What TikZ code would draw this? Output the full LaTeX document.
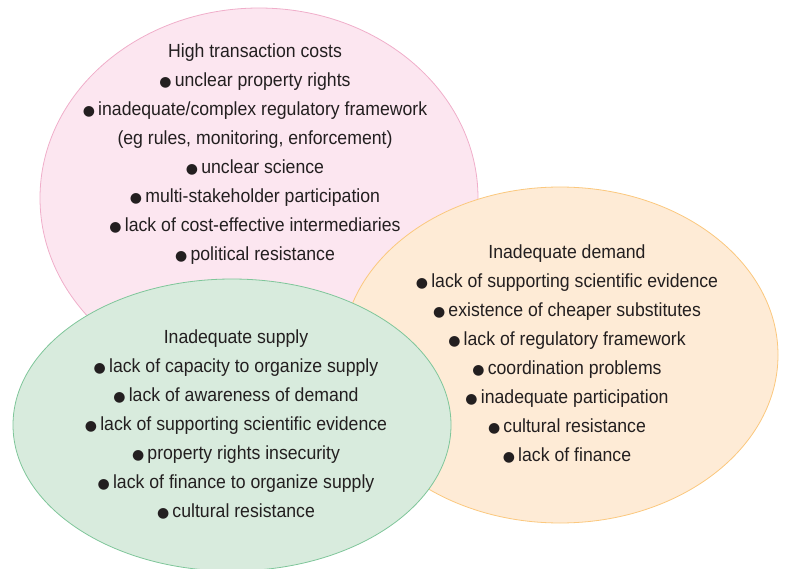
\documentclass[tikz,border=0pt]{standalone}
\usepackage{fontspec}
\setmainfont[FakeStretch=0.93]{Liberation Sans}
\newfontfamily\symfont{DejaVu Sans}
\usetikzlibrary{shapes.geometric,positioning}
\definecolor{pinkfill}{HTML}{FCE6F0}
\definecolor{pinkline}{HTML}{F0AECA}
\definecolor{orangefill}{HTML}{FEEBD6}
\definecolor{orangeline}{HTML}{FBC87E}
\definecolor{greenfill}{HTML}{D8EBDD}
\definecolor{greenline}{HTML}{7FC69A}
\definecolor{inktext}{HTML}{231F20}
\newcommand{\bul}{{\symfont\fontsize{14pt}{14pt}\selectfont ●}\,}
\tikzset{
  blob/.style={ellipse, draw, line width=0.8pt, inner sep=0pt},
  listtext/.style={align=center, text=inktext,
                   font=\fontsize{19pt}{29pt}\selectfont}
}
\begin{document}
\begin{tikzpicture}[x=1pt,y=-1pt]
  \useasboundingbox (0,0) rectangle (787,569);

  % the three sets of barriers
  \node[blob, fill=pinkfill, draw=pinkline, minimum width=438pt, minimum height=380pt] (costs) at (259,198) {};
  \node[blob, fill=orangefill, draw=orangeline, minimum width=436pt, minimum height=336pt] (demand) at (560,355) {};
  \node[blob, fill=greenfill, draw=greenline, minimum width=438pt, minimum height=292pt] (supply) at (232,425) {};

  \node[listtext] (coststext) at (255,154) {High transaction costs\\
    \bul unclear property rights\\
    \bul inadequate/complex regulatory framework\\
    (eg rules, monitoring, enforcement)\\
    \bul unclear science\\
    \bul multi-stakeholder participation\\
    \bul lack of cost-effective intermediaries\\
    \bul political resistance};

  \node[listtext] (demandtext) at (567,354) {Inadequate demand\\
    \bul lack of supporting scientific evidence\\
    \bul existence of cheaper substitutes\\
    \bul lack of regulatory framework\\
    \bul coordination problems\\
    \bul inadequate participation\\
    \bul cultural resistance\\
    \bul lack of finance};

  \node[listtext] (supplytext) at (236,424) {Inadequate supply\\
    \bul lack of capacity to organize supply\\
    \bul lack of awareness of demand\\
    \bul lack of supporting scientific evidence\\
    \bul property rights insecurity\\
    \bul lack of finance to organize supply\\
    \bul cultural resistance};
\end{tikzpicture}
\end{document}
